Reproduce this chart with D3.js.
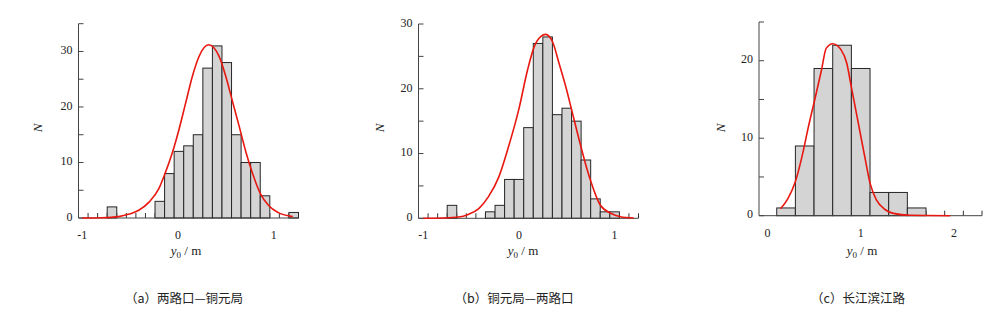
<!DOCTYPE html>
<meta charset="utf-8">
<script src="https://d3js.org/d3.v7.min.js"></script>
<style>
  body { margin: 0; background: #fff; }
  .tick-label { font-family: 'Liberation Serif', 'DejaVu Serif', serif; font-size: 12px; fill: #222; }
  .axis-title { font-family: 'Liberation Serif', 'DejaVu Serif', serif; font-size: 13px; fill: #222; }
  .caption { font-family: 'Noto Sans CJK SC', sans-serif; font-size: 12.5px; fill: #222; }
</style>
<body>
<div id="chart"></div>
<script>

// histogram bins: first edge, width, counts
var binStartA = -1.04, binWidthA = 0.1;
var countsA = [0, 0, 0, 2, 0, 0, 0, 0, 3, 8, 12, 13, 15, 27, 31, 28, 15, 10, 10, 4, 0, 0, 1];
var binStartB = -1.05, binWidthB = 0.1;
var countsB = [0, 0, 0, 2, 0, 0, 0, 1, 2, 6, 6, 14, 27, 28, 16, 17, 15, 9, 3, 1, 1, 0, 0];
var binStartC = 0.1, binWidthC = 0.2;
var countsC = [1, 9, 19, 22, 19, 3, 3, 1, 0, 0, 0];

// red fitted curves
var curveXA = [-1.0, -0.8, -0.62, -0.51, -0.41, -0.3, -0.2, -0.14, -0.06, 0.01, 0.08, 0.15, 0.22, 0.32, 0.43, 0.5, 0.57, 0.64, 0.71, 0.78, 0.86, 0.95, 1.05, 1.2];
var curveYA = [0, 0.05, 0.25, 0.7, 1.4, 2.9, 5.3, 7.8, 11.7, 15.9, 20.7, 25.5, 29.1, 31.2, 29.1, 25.5, 21, 16.5, 11.9, 8.0, 4.45, 2.2, 0.96, 0.25];
var curveXB = [-1.0, -0.8, -0.63, -0.53, -0.42, -0.32, -0.21, -0.11, 0.0, 0.09, 0.16, 0.23, 0.28, 0.35, 0.42, 0.49, 0.56, 0.63, 0.7, 0.77, 0.85, 0.96, 1.06, 1.2];
var curveYB = [0, 0.05, 0.2, 0.6, 1.5, 3.3, 6.4, 11.0, 16.9, 22.9, 26.5, 28.1, 28.4, 27.3, 23.9, 20.3, 16.2, 12.1, 8.2, 4.9, 2.05, 0.77, 0.25, 0.05];
var curveXC = [0.14, 0.22, 0.3, 0.37, 0.44, 0.51, 0.58, 0.63, 0.7, 0.79, 0.85, 0.9, 0.98, 1.05, 1.1, 1.17, 1.26, 1.35, 1.53, 1.96];
var curveYC = [0.9, 2.2, 4.4, 7.6, 11.5, 15.1, 18.8, 21.6, 22.2, 21.4, 19.7, 16.6, 11.6, 7.2, 4.2, 2.0, 0.8, 0.3, 0.05, 0];

// axis ticks
var xTicksA = [-1, 0, 1], xTicksB = [-1, 0, 1], xTicksC = [0, 1, 2];
var yTicksA = [0, 10, 20, 30], yMinorA = [5, 15, 25, 35];
var yTicksB = [0, 10, 20, 30], yMinorB = [5, 15, 25];
var yTicksC = [0, 10, 20], yMinorC = [5, 15, 25];

var captions = ["（a）两路口—铜元局", "（b）铜元局—两路口", "（c）长江滨江路"];

var panels = [
  {start: binStartA, width: binWidthA, counts: countsA, cx: curveXA, cy: curveYA,
   xDomain: [-1.04, 1.26], xRange: [78.5, 298.5], yDomain: [0, 35], yRange: [218, 23.7],
   xTicks: xTicksA, yTicks: yTicksA, yMinor: yMinorA, nX: 38, yLabX: 186, capX: 184},
  {start: binStartB, width: binWidthB, counts: countsB, cx: curveXB, cy: curveYB,
   xDomain: [-1.05, 1.25], xRange: [418.5, 638.5], yDomain: [0, 30], yRange: [218.3, 24],
   xTicks: xTicksB, yTicks: yTicksB, yMinor: yMinorB, nX: 380, yLabX: 523, capX: 514},
  {start: binStartC, width: binWidthC, counts: countsC, cx: curveXC, cy: curveYC,
   xDomain: [-0.09, 2.3], xRange: [759, 982], yDomain: [0, 25], yRange: [215.7, 22],
   xTicks: xTicksC, yTicks: yTicksC, yMinor: yMinorC, nX: 721, yLabX: 862, capX: 858}
];

var svg = d3.select("#chart")
  .append("svg")
    .attr("width", 1000)
    .attr("height", 322);

panels.forEach(function(p, k) {
  var x = d3.scaleLinear().domain(p.xDomain).range(p.xRange);
  var y = d3.scaleLinear().domain(p.yDomain).range(p.yRange);
  var g = svg.append("g");
  var y0 = y(0);

  var bins = p.counts.map(function(c, i) {
    return {x0: p.start + i * p.width, x1: p.start + (i + 1) * p.width, n: c};
  });

  // small edge marks where bins are empty
  g.selectAll(".edge")
    .data(bins)
    .enter()
    .append("line")
      .attr("x1", function(d) { return x(d.x1); })
      .attr("x2", function(d) { return x(d.x1); })
      .attr("y1", y0)
      .attr("y2", y0 - 5)
      .attr("stroke", "#333")
      .attr("stroke-width", 1);

  // bars
  g.selectAll(".bar")
    .data(bins.filter(function(d) { return d.n > 0; }))
    .enter()
    .append("rect")
      .attr("x", function(d) { return x(d.x0); })
      .attr("y", function(d) { return y(d.n); })
      .attr("width", function(d) { return x(d.x1) - x(d.x0); })
      .attr("height", function(d) { return y0 - y(d.n); })
      .attr("fill", "#d4d4d4")
      .attr("stroke", "#262626")
      .attr("stroke-width", 1);

  // axes
  g.append("line")
    .attr("x1", p.xRange[0]).attr("x2", p.xRange[1])
    .attr("y1", y0).attr("y2", y0)
    .attr("stroke", "#444");
  g.append("line")
    .attr("x1", p.xRange[0]).attr("x2", p.xRange[0])
    .attr("y1", y0).attr("y2", p.yRange[1])
    .attr("stroke", "#444");

  var allY = p.yTicks.concat(p.yMinor);
  g.selectAll(".ytick")
    .data(allY)
    .enter()
    .append("line")
      .attr("x1", p.xRange[0])
      .attr("x2", p.xRange[0] + 5)
      .attr("y1", function(d) { return y(d); })
      .attr("y2", function(d) { return y(d); })
      .attr("stroke", "#444");

  g.selectAll(".ylab")
    .data(p.yTicks)
    .enter()
    .append("text")
      .attr("class", "tick-label")
      .attr("x", p.xRange[0] - 6)
      .attr("y", function(d) { return y(d); })
      .attr("text-anchor", "end")
      .attr("dominant-baseline", "middle")
      .text(function(d) { return d; });

  g.selectAll(".xlab")
    .data(p.xTicks)
    .enter()
    .append("text")
      .attr("class", "tick-label")
      .attr("x", function(d) { return x(d); })
      .attr("y", y0 + 21)
      .attr("text-anchor", "middle")
      .text(function(d) { return d; });

  // fitted curve
  var line = d3.line()
    .x(function(d) { return x(d[0]); })
    .y(function(d) { return y(d[1]); })
    .curve(d3.curveMonotoneX);
  g.append("path")
    .datum(d3.zip(p.cx, p.cy))
    .attr("d", line)
    .attr("fill", "none")
    .attr("stroke", "#e8170f")
    .attr("stroke-width", 1.6);

  // axis titles
  g.append("text")
    .attr("class", "axis-title")
    .attr("transform", "translate(" + (p.nX + 4) + ",128) rotate(-90)")
    .attr("text-anchor", "middle")
    .style("font-style", "italic")
    .text("N");

  var t = g.append("text")
    .attr("class", "axis-title")
    .attr("x", p.yLabX)
    .attr("y", 255)
    .attr("text-anchor", "middle");
  t.append("tspan").style("font-style", "italic").text("y");
  t.append("tspan").attr("dy", 3).style("font-size", "9px").text("0");
  t.append("tspan").attr("dy", -3).text(" / m");

  svg.append("text")
    .attr("class", "caption")
    .attr("x", p.capX)
    .attr("y", 303)
    .attr("text-anchor", "middle")
    .text(captions[k]);
});

</script>
</body>
